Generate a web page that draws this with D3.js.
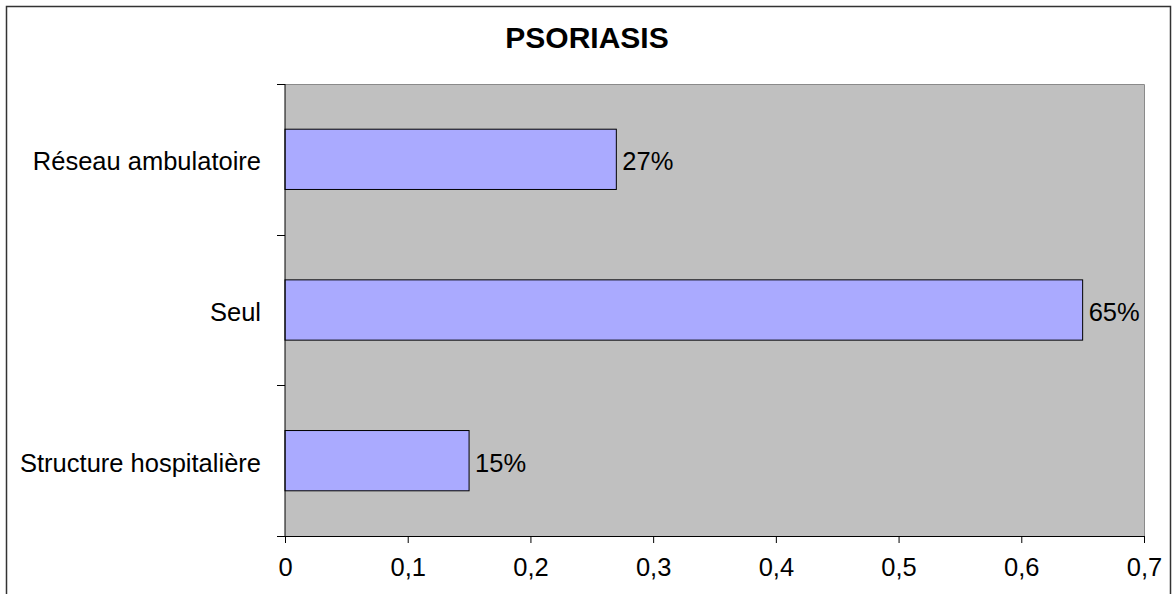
<!DOCTYPE html>
<html>
<head>
<meta charset="utf-8">
<script src="https://cdn.jsdelivr.net/npm/d3@7"></script>
<style>
  body { margin: 0; background: white; }
  text { font-family: "Liberation Sans", Arial, sans-serif; fill: black; }
</style>
</head>
<body>
<div id="chart"></div>
<script>
// chart data
const title = 'PSORIASIS';
const categories = ['Réseau ambulatoire', 'Seul', 'Structure hospitalière'];
const values = [0.27, 0.65, 0.15];
const xTicks = [0, 0.1, 0.2, 0.3, 0.4, 0.5, 0.6, 0.7];

const width = 1172, height = 594;
const plot = {left: 285, top: 84, right: 1144, bottom: 536};
const labelSize = '25.5px';

const frFormat = d3.formatLocale({decimal: ',', thousands: ' ', grouping: [3], currency: ['', ' €']});
const tickFmt = d => d === 0 ? '0' : frFormat.format('.1f')(d);

const svg = d3.select('#chart').append('svg')
    .attr('width', width)
    .attr('height', height);

// outer frame
svg.append('rect')
    .attr('x', 6.5).attr('y', 6.5)
    .attr('width', 1164).attr('height', 620)
    .attr('fill', 'white')
    .attr('stroke', '#333')
    .attr('stroke-width', 1.5);

// title
svg.append('text')
    .attr('x', 587).attr('y', 48)
    .attr('text-anchor', 'middle')
    .style('font-size', '30px')
    .style('font-weight', 'bold')
    .text(title);

const x = d3.scaleLinear()
    .domain([0, 0.7])
    .range([plot.left, plot.right]);

const y = d3.scaleBand()
    .domain(categories)
    .range([plot.top, plot.bottom])
    .paddingInner(0.6)
    .paddingOuter(0.3);

// plot background
svg.append('rect')
    .attr('x', plot.left).attr('y', plot.top)
    .attr('width', plot.right - plot.left)
    .attr('height', plot.bottom - plot.top)
    .attr('fill', '#c0c0c0');

// top and right borders of plot area
svg.append('path')
    .attr('d', `M${plot.left},${plot.top + 0.5}H${plot.right + 0.5}V${plot.bottom}`)
    .attr('fill', 'none')
    .attr('stroke', '#8a8a8a')
    .attr('stroke-width', 1);

// bars
svg.selectAll('rect.bar')
    .data(categories)
    .join('rect')
    .classed('bar', true)
    .attr('x', x(0))
    .attr('y', d => y(d))
    .attr('width', (d, i) => x(values[i]) - x(0))
    .attr('height', y.bandwidth())
    .attr('fill', '#aaaaff')
    .attr('stroke', 'black')
    .attr('stroke-width', 1);

// value labels
svg.selectAll('text.val')
    .data(categories)
    .join('text')
    .classed('val', true)
    .attr('x', (d, i) => x(values[i]) + 6)
    .attr('y', d => y(d) + y.bandwidth() / 2 + 2)
    .attr('dy', '0.35em')
    .style('font-size', labelSize)
    .text((d, i) => d3.format('.0%')(values[i]));

// x axis
const xAxis = svg.append('g')
    .attr('transform', `translate(0,${plot.bottom})`)
    .call(d3.axisBottom(x).tickValues(xTicks).tickFormat(tickFmt).tickSize(7).tickSizeOuter(0));
xAxis.select('.domain').attr('stroke', 'black');
xAxis.selectAll('text')
    .attr('dy', 0).attr('y', 40)
    .style('font-size', labelSize)
    .style('font-family', '"Liberation Sans", Arial, sans-serif');

// y axis: ticks at category boundaries
const boundaries = d3.range(categories.length + 1).map(i => plot.top + i * (plot.bottom - plot.top) / categories.length);
const yAxis = svg.append('g');
yAxis.append('line')
    .attr('x1', plot.left).attr('x2', plot.left)
    .attr('y1', plot.top).attr('y2', plot.bottom)
    .attr('stroke', 'black');
yAxis.selectAll('line.tick')
    .data(boundaries)
    .join('line')
    .classed('tick', true)
    .attr('x1', plot.left - 8).attr('x2', plot.left)
    .attr('y1', d => Math.round(d) + 0.5).attr('y2', d => Math.round(d) + 0.5)
    .attr('stroke', 'black');
yAxis.selectAll('text')
    .data(categories)
    .join('text')
    .attr('x', 261)
    .attr('y', d => y(d) + y.bandwidth() / 2 + 2)
    .attr('dy', '0.35em')
    .attr('text-anchor', 'end')
    .style('font-size', labelSize)
    .text(d => d);
</script>
</body>
</html>
